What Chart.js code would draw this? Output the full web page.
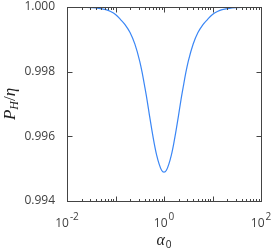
<!DOCTYPE html>
<html><head><meta charset="utf-8">
<script src="https://cdn.jsdelivr.net/npm/chart.js@4"></script>
<style>html,body{margin:0;padding:0;background:#fff}</style>
</head><body>
<canvas id="c" width="272" height="248"></canvas>
<script>
// alpha_0 values (log-spaced)
const alpha = [0.01,0.01585,0.02512,0.03981,0.0631,0.07943,0.1,0.1259,0.1585,0.1995,0.2512,0.3162,0.3548,0.3981,0.4467,0.5012,0.5623,0.631,0.7079,0.7943,0.8913,
  1,
  1.122,1.259,1.413,1.585,1.778,1.995,2.239,2.512,2.818,3.162,3.981,5.012,6.31,7.943,10,12.59,15.85,25.12,39.81,63.1,100];
// P_H / eta values
const ratio = [1.0,0.999995,0.99999,0.99997,0.99992,0.99986,0.99977,0.99962,0.99945,0.99921,0.99885,0.99832,0.99797,0.99756,0.99713,0.99665,0.99619,0.99577,0.99541,0.99514,0.99495,
  0.99489,
  0.99495,0.99514,0.99541,0.99577,0.99619,0.99665,0.99713,0.99756,0.99797,0.99832,0.99885,0.99921,0.99945,0.99962,0.99977,0.99986,0.99992,0.99997,0.99999,0.999995,1.0];
const yTickValues = [0.994, 0.996, 0.998, 1.000];
const xTickExponents = [-2, 0, 2];

const AX = '#444';
const frame = {
  id: 'frame',
  afterDraw(chart) {
    const ctx = chart.ctx, a = chart.chartArea;
    const xs = chart.scales.x, ys = chart.scales.y;
    ctx.save();
    ctx.strokeStyle = AX; ctx.lineWidth = 1;
    const L = Math.round(a.left) + 0.5, R = Math.round(a.right) + 0.5;
    const T = Math.round(a.top) + 0.5, B = Math.round(a.bottom) + 0.5;
    ctx.strokeRect(L, T, R - L, B - T);
    ctx.beginPath();
    yTickValues.forEach(v => {
      const y = Math.round(ys.getPixelForValue(v)) + 0.5;
      ctx.moveTo(L, y); ctx.lineTo(L + 5, y);
      ctx.moveTo(R, y); ctx.lineTo(R - 5, y);
    });
    for (let e = xTickExponents[0]; e <= xTickExponents[xTickExponents.length - 1]; e++) {
      for (let k = 1; k <= 9; k++) {
        const v = k * Math.pow(10, e);
        if (v > Math.pow(10, xTickExponents[xTickExponents.length - 1]) * 1.0001) break;
        const x = Math.round(xs.getPixelForValue(v)) + 0.5;
        const len = k === 1 ? 5 : 2.5;
        ctx.moveTo(x, B); ctx.lineTo(x, B - len);
        ctx.moveTo(x, T); ctx.lineTo(x, T + len);
      }
    }
    ctx.stroke();

    ctx.fillStyle = '#404040';
    ctx.textBaseline = 'alphabetic';
    xTickExponents.forEach(e => {
      const x = xs.getPixelForValue(Math.pow(10, e));
      const base = '10', sup = e < 0 ? '-' + (-e) : String(e);
      ctx.font = '12px "Open Sans"';
      const wb = ctx.measureText(base).width;
      ctx.font = '10px "Open Sans"';
      const ws = ctx.measureText(sup).width;
      const x0 = x - (wb + ws + 1) / 2;
      ctx.font = '12px "Open Sans"';
      ctx.textAlign = 'left';
      ctx.fillText(base, x0, 227);
      ctx.font = '10px "Open Sans"';
      ctx.fillText(sup, x0 + wb + 1, 219.5);
    });

    ctx.fillStyle = '#222';
    ctx.font = 'italic 16px "Liberation Serif"';
    const wa = ctx.measureText('α').width;
    ctx.font = '10px "Open Sans"';
    const w0 = ctx.measureText('0').width;
    const cx = (a.left + a.right) / 2;
    const xa = cx - (wa + w0 + 1) / 2;
    ctx.font = 'italic 16px "Liberation Serif"';
    ctx.fillText('α', xa, 245);
    ctx.font = '10px "Open Sans"';
    ctx.fillText('0', xa + wa + 1, 247.5);

    ctx.translate(15, 104);
    ctx.rotate(-Math.PI / 2);
    const parts = [
      {t: 'P', f: 'italic 17px "Liberation Serif"', dy: 0},
      {t: 'H', f: 'italic 12px "Liberation Serif"', dy: 3},
      {t: '/', f: '17px "Liberation Serif"', dy: 0},
      {t: 'η', f: 'italic 17px "Liberation Serif"', dy: 0}
    ];
    let tot = 0;
    parts.forEach(p => { ctx.font = p.f; p.w = ctx.measureText(p.t).width; tot += p.w; });
    let px = -tot / 2;
    parts.forEach(p => { ctx.font = p.f; ctx.fillText(p.t, px, p.dy); px += p.w; });
    ctx.restore();
  }
};

new Chart(document.getElementById('c'), {
  type: 'line',
  data: {
    datasets: [{
      data: alpha.map((a, i) => ({x: a, y: ratio[i]})),
      borderColor: '#3a86f5',
      borderWidth: 1.2,
      pointRadius: 0,
      fill: false,
      cubicInterpolationMode: 'monotone'
    }]
  },
  options: {
    responsive: false,
    animation: false,
    layout: {padding: {top: 7, right: 11, left: 0, bottom: 0}},
    plugins: {legend: {display: false}, tooltip: {enabled: false}},
    scales: {
      x: {
        type: 'logarithmic', min: 0.01, max: 100,
        grid: {display: false, drawTicks: false},
        border: {display: false},
        ticks: {display: false},
        afterFit(s) { s.height = 47; s.paddingLeft = 0; s.paddingRight = 0; }
      },
      y: {
        min: 0.994, max: 1.0,
        grid: {display: false, drawTicks: false},
        border: {display: false},
        afterBuildTicks(s) { s.ticks = yTickValues.map(v => ({value: v})); },
        ticks: {
          autoSkip: false,
          padding: 12,
          color: '#404040',
          font: {family: '"Open Sans"', size: 12},
          callback: v => Number(v).toFixed(3)
        },
        afterFit(s) { s.width = 67; s.paddingTop = 0; s.paddingBottom = 0; }
      }
    }
  },
  plugins: [frame]
});
</script>
</body></html>
